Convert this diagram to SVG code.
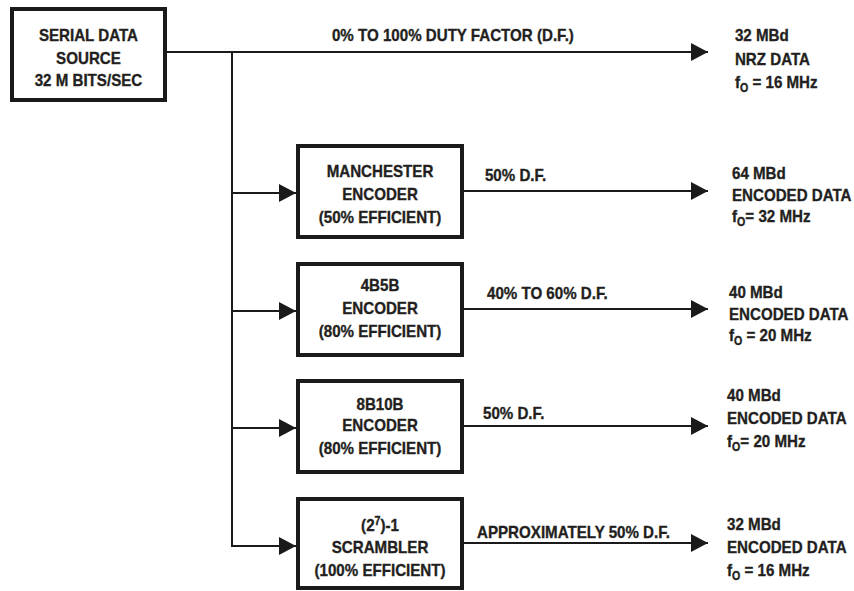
<svg xmlns="http://www.w3.org/2000/svg" width="854" height="591" viewBox="0 0 854 591">
<defs>
<marker id="ah" markerUnits="userSpaceOnUse" markerWidth="17" markerHeight="18" refX="17" refY="9" orient="auto">
<path d="M0,0 L17,9 L0,18 z" fill="#1a1a1a"/>
</marker>
<style>
text{font-family:"Liberation Sans",Arial,sans-serif;font-weight:bold;font-size:17px;fill:#231f20;stroke:#231f20;stroke-width:0.35}
.c{text-anchor:middle}
.box{fill:#fff;stroke:#1a1a1a;stroke-width:4}
.ln{fill:none;stroke:#1a1a1a;stroke-width:2}
.ar{marker-end:url(#ah)}
.sub{font-size:12px}
</style>
</defs>
<rect width="854" height="591" fill="#fff"/>
<g id="connectors">
<line class="ln ar" x1="167" y1="52" x2="708" y2="52"/>
<line class="ln" x1="232" y1="51" x2="232" y2="547"/>
<line class="ln ar" x1="231" y1="193" x2="296" y2="193"/>
<line class="ln ar" x1="231" y1="311" x2="296" y2="311"/>
<line class="ln ar" x1="231" y1="428" x2="296" y2="428"/>
<line class="ln ar" x1="231" y1="546" x2="296" y2="546"/>
<line class="ln ar" x1="464" y1="191" x2="708" y2="191"/>
<line class="ln ar" x1="464" y1="309" x2="708" y2="309"/>
<line class="ln ar" x1="464" y1="426" x2="708" y2="426"/>
<line class="ln ar" x1="464" y1="543" x2="708" y2="543"/>
<g transform="scale(0.89,1)">
<text x="373" y="41">0% TO 100% DUTY FACTOR (D.F.)</text>
<text x="544.9" y="181">50% D.F.</text>
<text x="547.2" y="299">40% TO 60% D.F.</text>
<text x="542.7" y="419">50% D.F.</text>
<text x="536" y="538">APPROXIMATELY 50% D.F.</text>
</g>
</g>
<g id="source">
<rect class="box" x="12" y="9" width="153" height="91"/>
<g transform="scale(0.89,1)">
<text class="c" x="99.4" y="41">SERIAL DATA</text>
<text class="c" x="99.4" y="64">SOURCE</text>
<text class="c" x="99.4" y="86">32 M BITS/SEC</text>
</g>
</g>
<g id="manchester">
<rect class="box" x="298" y="146" width="164" height="91"/>
<g transform="scale(0.89,1)">
<text class="c" x="427" y="177">MANCHESTER</text>
<text class="c" x="427" y="200">ENCODER</text>
<text class="c" x="427" y="223">(50% EFFICIENT)</text>
</g>
</g>
<g id="enc4b5b">
<rect class="box" x="298" y="264" width="164" height="91"/>
<g transform="scale(0.89,1)">
<text class="c" x="427" y="291">4B5B</text>
<text class="c" x="427" y="314">ENCODER</text>
<text class="c" x="427" y="337">(80% EFFICIENT)</text>
</g>
</g>
<g id="enc8b10b">
<rect class="box" x="298" y="381" width="164" height="91"/>
<g transform="scale(0.89,1)">
<text class="c" x="427" y="410">8B10B</text>
<text class="c" x="427" y="431">ENCODER</text>
<text class="c" x="427" y="454">(80% EFFICIENT)</text>
</g>
</g>
<g id="scrambler">
<rect class="box" x="298" y="499" width="164" height="89"/>
<g transform="scale(0.89,1)">
<text class="c" x="427" y="531">(2<tspan class="sub" dy="-6">7</tspan><tspan dy="6">)-1</tspan></text>
<text class="c" x="427" y="553">SCRAMBLER</text>
<text class="c" x="427" y="576">(100% EFFICIENT)</text>
</g>
</g>
<g id="out-nrz" transform="scale(0.89,1)">
<text x="825.8" y="41">32 MBd</text>
<text x="825.8" y="65">NRZ DATA</text>
<text x="825.8" y="88">f<tspan class="sub" dy="4">O</tspan><tspan dy="-4"> = 16 MHz</tspan></text>
</g>
<g id="out-manchester" transform="scale(0.89,1)">
<text x="822.5" y="179">64 MBd</text>
<text x="822.5" y="201">ENCODED DATA</text>
<text x="822.5" y="222">f<tspan class="sub" dy="4">O</tspan><tspan dy="-4">= 32 MHz</tspan></text>
</g>
<g id="out-4b5b" transform="scale(0.89,1)">
<text x="819.1" y="298">40 MBd</text>
<text x="819.1" y="320">ENCODED DATA</text>
<text x="819.1" y="341">f<tspan class="sub" dy="4">O</tspan><tspan dy="-4"> = 20 MHz</tspan></text>
</g>
<g id="out-8b10b" transform="scale(0.89,1)">
<text x="816.9" y="401">40 MBd</text>
<text x="816.9" y="424">ENCODED DATA</text>
<text x="816.9" y="447">f<tspan class="sub" dy="4">O</tspan><tspan dy="-4">= 20 MHz</tspan></text>
</g>
<g id="out-scrambler" transform="scale(0.89,1)">
<text x="816.9" y="530">32 MBd</text>
<text x="816.9" y="553">ENCODED DATA</text>
<text x="816.9" y="576">f<tspan class="sub" dy="4">O</tspan><tspan dy="-4"> = 16 MHz</tspan></text>
</g>
</svg>
